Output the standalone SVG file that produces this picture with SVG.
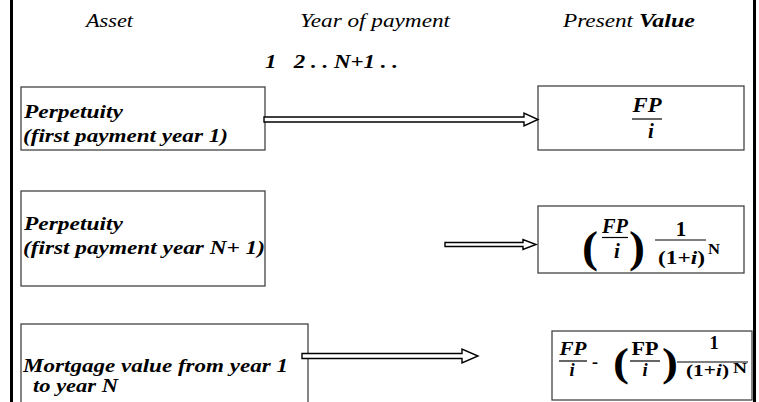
<svg xmlns="http://www.w3.org/2000/svg" width="759" height="402" viewBox="0 0 759 402">
<style>
text{font-family:"Liberation Serif","Times New Roman",serif;fill:#000}
.h{font-style:italic;font-size:18.5px}
.bi{font-style:italic;font-weight:bold;font-size:19.5px}
.m{font-weight:bold}
.mi{font-weight:bold;font-style:italic}
.box{fill:#fff;stroke:#444;stroke-width:1.3}
.frac{stroke:#000;stroke-width:1.2}
.arrow{fill:#fff;stroke:#000;stroke-width:1.4;stroke-linejoin:miter}
.frame{stroke:#000;stroke-width:3}
</style>
<rect width="759" height="402" fill="#fff"/>
<g id="frame">
<line class="frame" x1="11.5" y1="0" x2="11.5" y2="402"/>
<line class="frame" x1="754.5" y1="0" x2="754.5" y2="402"/>
</g>
<g id="headers">
<text class="h" x="86" y="27" textLength="47" lengthAdjust="spacingAndGlyphs">Asset</text>
<text class="h" x="300" y="27" textLength="150" lengthAdjust="spacingAndGlyphs">Year of payment</text>
<text class="h" x="563" y="27" textLength="70" lengthAdjust="spacingAndGlyphs">Present</text>
<text class="h" x="639" y="27" font-weight="bold" textLength="56" lengthAdjust="spacingAndGlyphs">Value</text>
<text class="bi" x="265" y="68" style="white-space:pre" textLength="133" lengthAdjust="spacingAndGlyphs">1   2 . . N+1 . .</text>
</g>
<g id="asset1">
<rect class="box" x="21" y="87" width="244" height="63"/>
<text class="bi" x="24" y="118" textLength="99" lengthAdjust="spacingAndGlyphs">Perpetuity</text>
<text class="bi" x="23" y="142" textLength="205" lengthAdjust="spacingAndGlyphs">(first payment year 1)</text>
</g>
<g id="asset2">
<rect class="box" x="21" y="191" width="244" height="95"/>
<text class="bi" x="24" y="230" textLength="99" lengthAdjust="spacingAndGlyphs">Perpetuity</text>
<text class="bi" x="23" y="254" textLength="242" lengthAdjust="spacingAndGlyphs">(first payment year N+ 1)</text>
</g>
<g id="asset3">
<rect class="box" x="21" y="324" width="287" height="80"/>
<text class="bi" x="23" y="372" textLength="265" lengthAdjust="spacingAndGlyphs">Mortgage value from year 1</text>
<text class="bi" x="33" y="392" textLength="85" lengthAdjust="spacingAndGlyphs">to year N</text>
</g>
<g id="pv1">
<rect class="box" x="538" y="86" width="206" height="64"/>
<text class="mi" x="647" y="112" font-size="21" text-anchor="middle" textLength="29" lengthAdjust="spacingAndGlyphs">FP</text>
<line class="frac" x1="632" y1="119" x2="662" y2="119"/>
<text class="mi" x="651" y="138" font-size="21" text-anchor="middle">i</text>
</g>
<g id="pv2">
<rect class="box" x="538" y="206" width="206" height="67"/>
<text class="m" x="582" y="262" font-size="44" textLength="16" lengthAdjust="spacingAndGlyphs">(</text>
<text class="mi" x="615" y="233" font-size="21" text-anchor="middle" textLength="26" lengthAdjust="spacingAndGlyphs">FP</text>
<line class="frac" x1="602" y1="237.5" x2="628" y2="237.5"/>
<text class="mi" x="617" y="258" font-size="21" text-anchor="middle">i</text>
<text class="m" x="629" y="262" font-size="44" textLength="16" lengthAdjust="spacingAndGlyphs">)</text>
<text class="m" x="681" y="236" font-size="21" text-anchor="middle">1</text>
<line class="frac" x1="655" y1="240" x2="706" y2="240"/>
<text class="m" x="658" y="264" font-size="19" textLength="47" lengthAdjust="spacingAndGlyphs">(1+<tspan font-style="italic">i</tspan>)</text>
<text class="m" x="708" y="254" font-size="14" textLength="12" lengthAdjust="spacingAndGlyphs">N</text>
</g>
<g id="pv3">
<rect class="box" x="552" y="331" width="200" height="69"/>
<text class="mi" x="573" y="355" font-size="18.5" text-anchor="middle" textLength="27" lengthAdjust="spacingAndGlyphs">FP</text>
<line class="frac" x1="559" y1="361" x2="587" y2="361"/>
<text class="mi" x="572" y="376" font-size="18.5" text-anchor="middle">i</text>
<text class="m" x="592" y="368" font-size="18" textLength="6" lengthAdjust="spacingAndGlyphs">-</text>
<text class="m" x="613" y="376" font-size="40" textLength="16" lengthAdjust="spacingAndGlyphs">(</text>
<text class="m" x="645" y="355" font-size="18.5" text-anchor="middle" textLength="27" lengthAdjust="spacingAndGlyphs">FP</text>
<line class="frac" x1="630" y1="361" x2="660" y2="361"/>
<text class="mi" x="645" y="376" font-size="18.5" text-anchor="middle">i</text>
<text class="m" x="662" y="376" font-size="40" textLength="16" lengthAdjust="spacingAndGlyphs">)</text>
<text class="m" x="714" y="349" font-size="18.5" text-anchor="middle">1</text>
<line class="frac" x1="677" y1="362" x2="748" y2="362"/>
<text class="m" x="686" y="376" font-size="17.5" textLength="43" lengthAdjust="spacingAndGlyphs">(1+<tspan font-style="italic">i</tspan>)</text>
<text class="m" x="733" y="373" font-size="14" textLength="14" lengthAdjust="spacingAndGlyphs">N</text>
</g>
<g id="connectors">
<polygon class="arrow" points="264,117 524,117 524,113 538,119.5 524,126 524,122 264,122"/>
<polygon class="arrow" points="445,242.5 523,242.5 523,239.5 536,244.5 523,249.5 523,246.5 445,246.5"/>
<polygon class="arrow" points="302,353.5 462,353.5 462,349 478,356 462,363 462,358.5 302,358.5"/>
</g>
</svg>
